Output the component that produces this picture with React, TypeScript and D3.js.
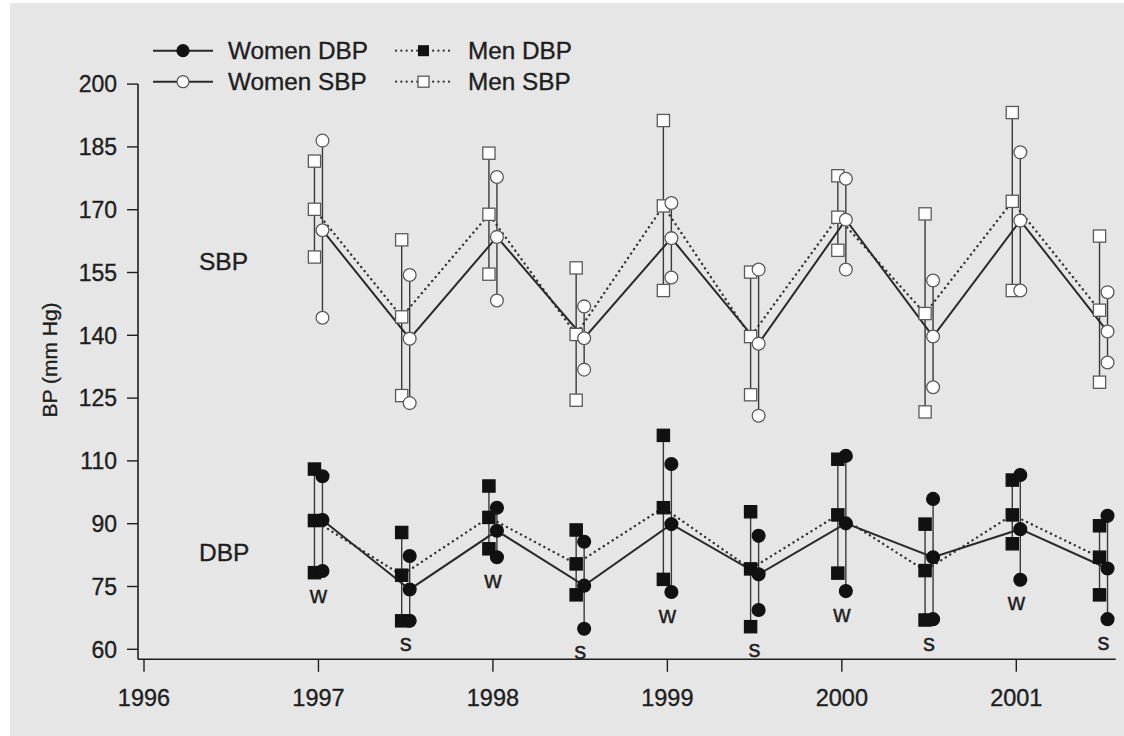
import React from "react";
import * as d3 from "d3";

const times = [1997, 1997.5, 1998, 1998.5, 1999, 1999.5, 2000, 2000.5, 2001, 2001.5];
const seasonLabels = ["w", "s", "w", "s", "w", "s", "w", "s", "w", "s"];
const xTickYears = [1996, 1997, 1998, 1999, 2000, 2001];
const yTickValues = [60, 75, 90, 110, 125, 140, 155, 170, 185, 200];

const womenSbpMean = [165.1, 139.2, 163.5, 139.3, 163.2, 138.0, 167.6, 139.7, 167.4, 140.9];
const womenSbpHigh = [186.5, 154.4, 177.8, 146.9, 171.6, 155.7, 177.4, 153.1, 183.7, 150.3];
const womenSbpLow = [144.2, 123.8, 148.3, 131.8, 153.8, 120.8, 155.7, 127.6, 150.7, 133.5];

const menSbpMean = [170.1, 144.4, 168.9, 140.2, 170.9, 139.7, 168.2, 145.2, 172.0, 146.0];
const menSbpHigh = [181.6, 162.8, 183.5, 156.1, 191.3, 155.1, 178.1, 169.0, 193.2, 163.7];
const menSbpLow = [158.7, 125.6, 154.6, 124.5, 150.7, 125.8, 160.3, 121.7, 150.7, 128.8];

const womenDbpMean = [91.2, 74.3, 88.3, 75.2, 89.9, 77.9, 90.1, 82.0, 88.7, 79.3];
const womenDbpHigh = [105.1, 82.3, 95.1, 85.7, 109.0, 87.1, 111.2, 97.9, 105.5, 92.5];
const womenDbpLow = [78.7, 66.8, 82.0, 64.9, 73.7, 69.4, 73.9, 67.2, 76.6, 67.2];

const menDbpMean = [91.0, 77.7, 92.0, 80.4, 95.1, 79.2, 92.8, 78.8, 92.8, 82.0];
const menDbpHigh = [107.4, 87.9, 102.0, 88.5, 116.1, 93.8, 110.4, 89.9, 103.9, 89.5];
const menDbpLow = [78.3, 66.8, 84.0, 73.0, 76.7, 65.4, 78.2, 67.0, 85.2, 73.0];

const FONT = "'Liberation Sans', Arial, Helvetica, sans-serif";
const DODGE = 4;
const R = 6.4;
const SQ = 12.2;
const INK = "#1e1e1e";
const MARK_STROKE = "#5a5a5a";
const TEXT_STROKE = 0.35;

const x = d3.scaleLinear().domain([1996, 2001]).range([144, 1016.3]);
const y = d3
  .scaleLinear()
  .domain(yTickValues)
  .range(yTickValues.map((_, i) => 649.3 - i * 62.8));

type Series = { mean: number[]; low: number[]; high: number[]; dx: number };

const women = (mean: number[], low: number[], high: number[]): Series => ({ mean, low, high, dx: DODGE });
const men = (mean: number[], low: number[], high: number[]): Series => ({ mean, low, high, dx: -DODGE });

const wSbp = women(womenSbpMean, womenSbpLow, womenSbpHigh);
const mSbp = men(menSbpMean, menSbpLow, menSbpHigh);
const wDbp = women(womenDbpMean, womenDbpLow, womenDbpHigh);
const mDbp = men(menDbpMean, menDbpLow, menDbpHigh);

function linePath(s: Series) {
  const gen = d3
    .line<number>()
    .x((_, i) => x(times[i]) + s.dx)
    .y((v) => y(v));
  return gen(s.mean) || "";
}

function Ranges({ s }: { s: Series }) {
  return (
    <g>
      {times.map((t, i) => (
        <line
          key={i}
          x1={x(t) + s.dx}
          x2={x(t) + s.dx}
          y1={y(s.high[i])}
          y2={y(s.low[i])}
          stroke="#3a3a3a"
          strokeWidth={1.4}
        />
      ))}
    </g>
  );
}

function points(s: Series) {
  const all: { t: number; v: number; k: string }[] = [];
  times.forEach((t, i) => {
    all.push({ t, v: s.low[i], k: `l${i}` });
    all.push({ t, v: s.high[i], k: `h${i}` });
    all.push({ t, v: s.mean[i], k: `m${i}` });
  });
  return all;
}

function Circles({ s, filled }: { s: Series; filled: boolean }) {
  return (
    <g>
      {points(s).map((d) => (
        <circle
          key={d.k}
          cx={x(d.t) + s.dx}
          cy={y(d.v)}
          r={R}
          fill={filled ? "#111" : "#fff"}
          stroke={filled ? "#111" : MARK_STROKE}
          strokeWidth={1.3}
        />
      ))}
    </g>
  );
}

function Squares({ s, filled }: { s: Series; filled: boolean }) {
  return (
    <g>
      {points(s).map((d) => (
        <rect
          key={d.k}
          x={x(d.t) + s.dx - SQ / 2}
          y={y(d.v) - SQ / 2}
          width={SQ}
          height={SQ}
          fill={filled ? "#111" : "#fff"}
          stroke={filled ? "#111" : MARK_STROKE}
          strokeWidth={1.3}
        />
      ))}
    </g>
  );
}

export default function App() {
  const xEnd = x(2001.57);
  const yTop = y(200);
  const yAxis = 659.3;
  const labelY = times.map((_, i) => Math.max(y(womenDbpLow[i]), y(menDbpLow[i])) + 22);
  const txt = { fill: INK, stroke: INK, strokeWidth: TEXT_STROKE };

  return (
    <svg
      width={1124}
      height={736}
      style={{ position: "absolute", left: 0, top: 0, fontFamily: FONT }}
    >
      <rect x={0} y={0} width={1124} height={736} fill="#fff" />
      <rect x={10} y={3} width={1114} height={733} fill="#e6e6e6" />

      {/* axes */}
      <line x1={138} x2={138} y1={yTop} y2={yAxis} stroke={INK} strokeWidth={1.6} />
      <line x1={138} x2={xEnd} y1={yAxis} y2={yAxis} stroke={INK} strokeWidth={1.6} />
      {yTickValues.map((v) => (
        <g key={v}>
          <line x1={127} x2={138} y1={y(v)} y2={y(v)} stroke={INK} strokeWidth={1.4} />
          <text x={117} y={y(v)} dy="0.36em" textAnchor="end" fontSize={23} {...txt}>
            {v}
          </text>
        </g>
      ))}
      {xTickYears.map((t) => (
        <g key={t}>
          <line x1={x(t)} x2={x(t)} y1={yAxis} y2={yAxis + 12.5} stroke={INK} strokeWidth={1.4} />
          <text x={x(t)} y={706} textAnchor="middle" fontSize={23.5} {...txt}>
            {t}
          </text>
        </g>
      ))}
      <text
        transform="translate(57,360) rotate(-90)"
        textAnchor="middle"
        fontSize={21}
        {...txt}
      >
        BP (mm Hg)
      </text>

      <text x={199} y={y(155) - 11} dy="0.36em" fontSize={24.5} {...txt}>SBP</text>
      <text x={199} y={y(90) + 28} dy="0.36em" fontSize={24.5} {...txt}>DBP</text>

      {/* ranges */}
      <Ranges s={mSbp} />
      <Ranges s={wSbp} />
      <Ranges s={mDbp} />
      <Ranges s={wDbp} />

      {/* connecting lines */}
      <path d={linePath(mSbp)} fill="none" stroke="#333" strokeWidth={2.4} strokeDasharray="0.1 5.2" strokeLinecap="round" />
      <path d={linePath(wSbp)} fill="none" stroke="#2a2a2a" strokeWidth={2} />
      <path d={linePath(mDbp)} fill="none" stroke="#333" strokeWidth={2.4} strokeDasharray="0.1 5.2" strokeLinecap="round" />
      <path d={linePath(wDbp)} fill="none" stroke="#2a2a2a" strokeWidth={2} />

      {/* markers */}
      <Squares s={mSbp} filled={false} />
      <Circles s={wSbp} filled={false} />
      <Squares s={mDbp} filled={true} />
      <Circles s={wDbp} filled={true} />

      {/* season labels */}
      {times.map((t, i) => (
        <text key={i} x={x(t)} y={labelY[i]} dy="0.36em" textAnchor="middle" fontSize={24} {...txt}>
          {seasonLabels[i]}
        </text>
      ))}

      {/* legend */}
      <g>
        <line x1={153} x2={213} y1={50.7} y2={50.7} stroke="#2a2a2a" strokeWidth={2} />
        <circle cx={183} cy={50.7} r={6} fill="#111" stroke="#111" strokeWidth={1.2} />
        <text x={228} y={50.7} dy="0.36em" fontSize={24.3} {...txt}>Women DBP</text>
        <line x1={153} x2={213} y1={81.7} y2={81.7} stroke="#2a2a2a" strokeWidth={2} />
        <circle cx={183} cy={81.7} r={6} fill="#fff" stroke={MARK_STROKE} strokeWidth={1.3} />
        <text x={228} y={81.7} dy="0.36em" fontSize={24.3} {...txt}>Women SBP</text>

        <line x1={396} x2={454} y1={50.7} y2={50.7} stroke="#333" strokeWidth={2.2} strokeDasharray="0.1 5.2" strokeLinecap="round" />
        <rect x={418} y={45.2} width={11} height={11} fill="#111" />
        <text x={468} y={50.7} dy="0.36em" fontSize={24.3} {...txt}>Men DBP</text>
        <line x1={396} x2={454} y1={81.7} y2={81.7} stroke="#333" strokeWidth={2.2} strokeDasharray="0.1 5.2" strokeLinecap="round" />
        <rect x={418} y={76.2} width={11} height={11} fill="#fff" stroke={MARK_STROKE} strokeWidth={1.3} />
        <text x={468} y={81.7} dy="0.36em" fontSize={24.3} {...txt}>Men SBP</text>
      </g>
    </svg>
  );
}
